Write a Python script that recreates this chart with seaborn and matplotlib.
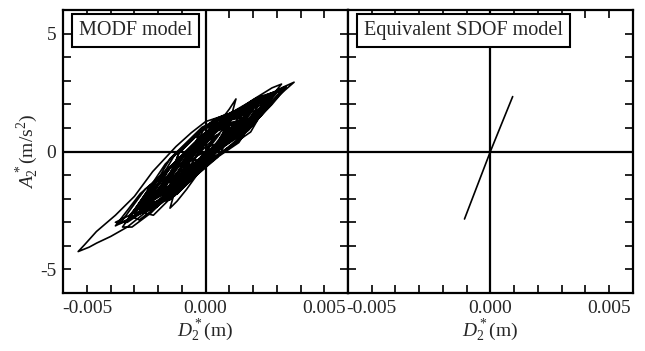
import numpy as np
import pandas as pd
import matplotlib
matplotlib.use("Agg")
import matplotlib.pyplot as plt
import seaborn as sns
from matplotlib.ticker import MultipleLocator, FixedLocator, FixedFormatter

# ---- data (D in mm, A in m/s^2) ----
# first group of loops (outer features: spikes, big lower-left loop)
loops_a_disp_mm = [
    0.0, 0.4, 0.8, 1.1, 0.7, 0.1, -0.5, -0.9, -0.6, -0.1, 0.5, 1.0, 1.6,
    1.2, 0.5, -0.3, -1.0, -1.6, -1.2, -0.6, 0.0, 0.6, 1.0, 1.28,
    1.0, 0.4, -0.4, -1.2, -2.0, -2.6, -2.2, -1.5, -0.8, 0.0, 0.8, 1.6, 2.5, 3.2,
    2.8, 2.0, 1.0, 0.0, -1.0, -2.0, -2.8, -3.5,
    -3.1, -2.3, -1.3, -0.3, 0.6, 1.5, 2.4, 3.0, 3.73,
    3.2, 2.2, 1.2, 0.2, -0.7, -1.5, -2.2, -3.0, -3.8,
    -3.3, -2.4, -1.5, -0.7, 0.0, 0.42, 1.25, 2.0, 2.37, 2.8, 3.3,
    2.9, 2.0, 1.4, 1.0,
    0.0, -0.6, -1.25, -2.23, -3.0, -3.8, -4.6, -5.1, -5.37,
    -4.9, -4.59, -4.0, -3.3, -2.5, -1.8, -1.0, -0.2,
    0.5, 1.2, 1.9, 2.3,
    1.8, 1.0, 0.2, -0.6, -1.1, -1.5, -1.2, -0.8,
    -0.3, 0.3, 0.9, 1.6, 2.2, 2.7,
    2.2, 1.4, 0.6, -0.2, -1.0, -1.8, -2.6, -3.2,
    -2.8, -2.0, -1.2, -0.4, 0.2, 0.8, 1.3,
    0.9, 0.3, -0.3, -0.8, -0.5, 0.0, 0.4, 0.1, 0.0,
]
loops_a_acc = [
    0.0, 0.2, 0.8, 1.4, 1.3, 0.7, -0.1, -0.9, -1.0, -0.5, 0.3, 0.9, 1.7,
    1.7, 1.1, 0.2, -0.6, -1.6, -1.8, -1.2, -0.4, 0.4, 1.2, 2.23,
    1.8, 1.0, 0.0, -0.9, -1.8, -2.6, -2.7, -2.0, -1.2, -0.3, 0.5, 1.2, 2.0, 2.86,
    2.7, 2.2, 1.5, 0.8, -0.2, -1.2, -2.2, -3.2,
    -3.2, -2.6, -1.6, -0.6, 0.3, 1.0, 1.7, 2.3, 2.94,
    2.7, 2.1, 1.5, 0.9, 0.1, -0.7, -1.7, -2.6, -3.0,
    -3.0, -2.4, -1.8, -1.1, -0.5, 0.07, 0.57, 1.2, 1.55, 2.0, 2.6,
    2.5, 1.9, 1.7, 1.6,
    1.27, 0.8, 0.21, -0.85, -1.9, -2.7, -3.39, -3.95, -4.24,
    -4.05, -3.88, -3.6, -3.2, -2.55, -2.1, -1.5, -0.6,
    0.3, 1.0, 1.8, 2.3,
    2.0, 1.3, 0.6, -0.3, -1.0, -2.4, -2.1, -1.6,
    -0.9, -0.2, 0.4, 1.1, 1.7, 2.3,
    2.1, 1.6, 1.0, 0.3, -0.5, -1.2, -2.0, -2.7,
    -2.9, -2.3, -1.5, -0.8, -0.1, 0.6, 1.2,
    1.1, 0.5, -0.1, -0.8, -0.7, -0.2, 0.3, 0.2, 0.0,
]
# second group of loops (dense core of the band)
loops_b_disp_mm = [
    -0.3, -0.6, -0.25, 0.1, 0.45, 0.8, 0.3, -0.2, -0.7, -1.2,
    -0.55, 0.1, 0.75, 1.4, 0.55, -0.3, -1.15, -2.0,
    -1.0, 0.0, 1.0, 2.0, 1.25, 0.5, -0.25, -1.0,
    -0.1, 0.8, 1.7, 2.6, 1.25, -0.1, -1.45, -2.8,
    -1.85, -0.9, 0.05, 1.0, -0.07, -1.15, -2.22, -3.3,
    -1.78, -0.25, 1.28, 2.8, 1.65, 0.5, -0.65, -1.8,
    -0.6, 0.6, 1.8, 3.0, 1.65, 0.3, -1.05, -2.4,
    -1.35, -0.3, 0.75, 1.8, 1.15, 0.5, -0.15, -0.8,
    -0.3, 0.2, 0.7, 1.2, 0.15, -0.9, -1.95, -3.0,
    -1.4, 0.2, 1.8, 3.4, 2.0, 0.6, -0.8, -2.2,
    -1.05, 0.1, 1.25, 2.4, 1.4, 0.45, -0.5, -1.5,
    -0.95, -0.45, 0.05, 0.6, -0.45, -1.5, -2.55, -3.6,
    -2.3, -1.0, 0.3, 1.6, 0.95, 0.3, -0.35, -1.0,
    -0.2, 0.6, 1.4, 2.2, 1.0, -0.2, -1.4, -2.6,
    -1.15, 0.3, 1.75, 3.2, 2.3, 1.4, 0.5, -0.4,
    0.15, 0.7, 1.25, 1.8, 0.9, 0.0, -0.95, -1.9,
    -1.3, -0.75, -0.2, 0.4, -0.65, -1.7, -2.75, -3.8,
    -2.35, -0.9, 0.55, 2.0, 1.2, 0.35, -0.45, -1.3,
    -0.25, 0.8, 1.85, 2.9, 1.6, 0.3, -1.0, -2.3,
    -1.45, -0.6, 0.3, 1.2, 0.8, 0.4, 0.0,
]
loops_b_acc = [
    -0.1, -0.4, -0.33, 0.01, 0.22, 0.95, 0.88, 0.48, -0.05, -1.0,
    -0.75, -0.09, 0.33, 1.3, 1.14, 0.47, -0.39, -1.8,
    -1.25, -0.2, 0.45, 1.75, 1.48, 0.95, 0.37, -0.85,
    -0.26, 0.36, 0.99, 2.2, 1.68, 0.74, -0.61, -2.45,
    -2.02, -1.15, -0.17, 1.1, 0.72, -0.39, -1.33, -2.9,
    -2.0, -0.53, 0.6, 2.35, 1.85, 1.05, 0.05, -1.6,
    -0.85, 0.17, 1.01, 2.5, 1.9, 0.98, -0.3, -2.1,
    -1.52, -0.48, 0.33, 1.6, 1.41, 0.95, 0.48, -0.65,
    -0.38, 0.07, 0.39, 1.15, 0.94, -0.1, -1.06, -2.65,
    -1.71, -0.18, 0.91, 2.75, 2.15, 1.17, -0.05, -1.95,
    -1.3, -0.14, 0.63, 2.0, 1.63, 0.97, 0.15, -1.35,
    -1.0, -0.49, 0.03, 0.75, 0.31, -0.7, -1.6, -3.05,
    -2.34, -1.2, 0.03, 1.45, 1.32, 0.88, 0.32, -0.9,
    -0.37, 0.22, 0.78, 1.9, 1.5, 0.63, -0.56, -2.3,
    -1.44, -0.07, 0.93, 2.6, 2.26, 1.63, 1.0, -0.2,
    0.04, 0.39, 0.78, 1.65, 1.38, 0.8, -0.2, -1.75,
    -1.37, -0.85, -0.27, 0.6, 0.1, -0.88, -1.78, -3.15,
    -2.43, -1.15, 0.14, 1.8, 1.54, 0.96, 0.26, -1.15,
    -0.48, 0.31, 1.05, 2.45, 1.87, 0.98, -0.25, -2.05,
    -1.61, -0.8, 0.03, 1.2, 1.11, 0.84, 0.3,
]
# third group of loops (wider loops forming the band edges)
loops_c_disp_mm = [
    -0.4, -0.8, -1.15, -1.5,
    -0.6, 0.35, 1.3, 2.2, 1.05, -0.15, -1.35, -2.5,
    -1.5, -0.5, 0.5, 1.5, 0.9, 0.35, -0.25, -0.8,
    0.1, 1.0, 1.9, 2.8, 1.3, -0.2, -1.7, -3.2,
    -2.15, -1.1, -0.05, 1.0, 0.3, -0.4, -1.1, -1.8,
    -0.7, 0.35, 1.4, 2.5, 1.2, -0.15, -1.5, -2.8,
    -1.3, 0.25, 1.8, 3.3, 2.2, 1.0, -0.1, -1.2,
    -0.6, -0.1, 0.4, 0.9, 0.5, 0.2, -0.2,
]
loops_c_acc = [
    0.65, 0.25, -0.09, -1.3,
    -1.15, -0.29, 0.36, 1.95, 1.65, 0.98, -0.22, -2.2,
    -2.05, -1.1, -0.25, 1.45, 1.6, 1.35, 0.82, -0.7,
    -0.39, 0.2, 0.83, 2.4, 1.75, 0.93, -0.53, -2.8,
    -2.4, -1.64, -0.55, 1.05, 1.28, 0.65, -0.04, -1.6,
    -1.3, -0.34, 0.38, 2.1, 1.7, 1.03, -0.3, -2.55,
    -1.87, -0.4, 0.9, 2.65, 2.3, 1.6, 0.89, -1.05,
    -0.95, -0.41, -0.06, 0.95, 1.2, 1.02, 0.5,
]
sdof_disp_mm = [-1.09, 0.0, 0.94]
sdof_acc = [-2.86, 0.0, 2.33]

panel_titles = ["MODF model", "Equivalent SDOF model"]
x_ticks = [-0.005, 0.0, 0.005]
x_tick_labels = ["-0.005", "0.000", "0.005"]
y_ticks = [-5, 0, 5]
y_tick_labels = ["-5", "0", "5"]

mdof_d = np.array(loops_a_disp_mm + loops_b_disp_mm + loops_c_disp_mm) / 1000.0
mdof_a = np.array(loops_a_acc + loops_b_acc + loops_c_acc)
df_m = pd.DataFrame({"D": mdof_d, "A": mdof_a})
df_s = pd.DataFrame({"D": np.array(sdof_disp_mm) / 1000.0, "A": sdof_acc})

sns.set_theme(style="ticks")
plt.rcParams["font.family"] = ["Liberation Serif", "DejaVu Serif"]
plt.rcParams["mathtext.fontset"] = "custom"
plt.rcParams["mathtext.rm"] = "Liberation Serif"
plt.rcParams["mathtext.it"] = "Liberation Serif:italic"
plt.rcParams["axes.unicode_minus"] = False

fig, axes = plt.subplots(1, 2, figsize=(6.45, 3.51), dpi=100, sharey=True)
fig.subplots_adjust(left=0.098, right=0.981, top=0.9715, bottom=0.165, wspace=0)

for ax, df, title in zip(axes, [df_m, df_s], panel_titles):
    sns.lineplot(data=df, x="D", y="A", sort=False, estimator=None,
                 color="black", linewidth=1.2, ax=ax)
    ax.axhline(0, color="black", linewidth=1.6, zorder=1)
    ax.axvline(0, color="black", linewidth=1.6, zorder=1)
    ax.set_xlim(-0.006, 0.006)
    ax.set_ylim(-6, 6)
    ax.xaxis.set_major_locator(FixedLocator(x_ticks))
    ax.xaxis.set_major_formatter(FixedFormatter(x_tick_labels))
    ax.xaxis.set_minor_locator(MultipleLocator(0.001))
    ax.yaxis.set_major_locator(FixedLocator(y_ticks))
    ax.yaxis.set_major_formatter(FixedFormatter(y_tick_labels))
    ax.yaxis.set_minor_locator(MultipleLocator(1))
    ax.tick_params(which="both", direction="in", top=True, right=True,
                   left=True, bottom=True, width=1.2, color="black")
    ax.tick_params(which="major", length=6, labelsize=14, pad=5)
    ax.tick_params(which="minor", length=6)
    for sp in ax.spines.values():
        sp.set_linewidth(1.6)
        sp.set_color("black")
    ax.set_xlabel("$D_2^*$(m)", fontsize=14, labelpad=0)
    ax.text(0.055, 0.962, title, transform=ax.transAxes, ha="left", va="top",
            fontsize=14.5,
            bbox=dict(boxstyle="square,pad=0.35", facecolor="white",
                      edgecolor="black", linewidth=1.5))

axes[0].set_ylabel("$A_2^*$(m/s$^2$)", fontsize=14, labelpad=0)
axes[1].set_ylabel("")
axes[1].tick_params(labelleft=False)

fig.savefig("out.png", dpi=100)
